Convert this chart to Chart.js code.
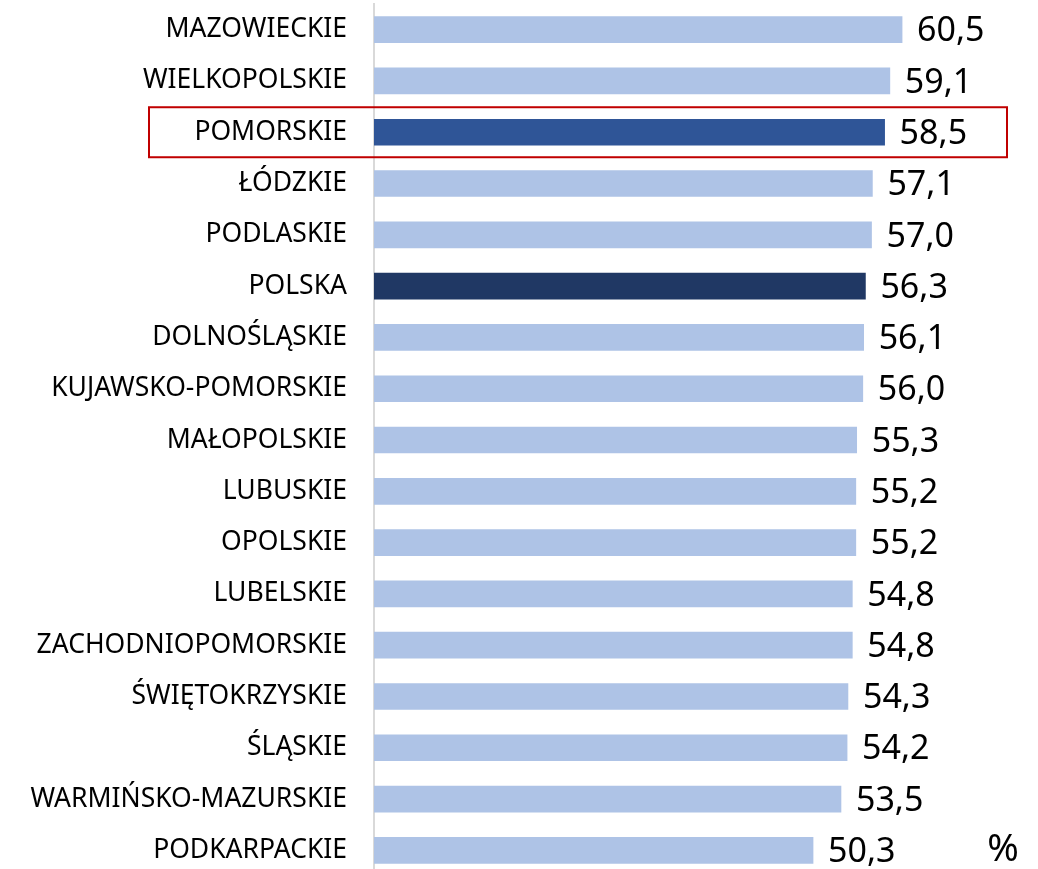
<!DOCTYPE html>
<html>
<head>
<meta charset="utf-8">
<script src="https://cdn.jsdelivr.net/npm/chart.js@4"></script>
<style>
html,body{margin:0;padding:0;background:#fff;overflow:hidden;}
canvas{display:block;}
</style>
</head>
<body>
<canvas id="c" width="1038" height="880"></canvas>
<script>
const categories = ["MAZOWIECKIE","WIELKOPOLSKIE","POMORSKIE","ŁÓDZKIE","PODLASKIE","POLSKA","DOLNOŚLĄSKIE","KUJAWSKO-POMORSKIE","MAŁOPOLSKIE","LUBUSKIE","OPOLSKIE","LUBELSKIE","ZACHODNIOPOMORSKIE","ŚWIĘTOKRZYSKIE","ŚLĄSKIE","WARMIŃSKO-MAZURSKIE","PODKARPACKIE"];
const values = [60.5,59.1,58.5,57.1,57.0,56.3,56.1,56.0,55.3,55.2,55.2,54.8,54.8,54.3,54.2,53.5,50.3];
const highlightRegion = "POMORSKIE";
const nationalLabel = "POLSKA";
const unitLabel = "%";

const LIGHT = "#aec3e6", HIGH = "#2f5597", NAT = "#203864";
const colors = categories.map(c => c === highlightRegion ? HIGH : (c === nationalLabel ? NAT : LIGHT));

const overlay = {
  id: "overlay",
  afterDatasetsDraw(chart) {
    const ctx = chart.ctx;
    const meta = chart.getDatasetMeta(0);
    ctx.save();
    ctx.font = "34px 'Noto Sans'";
    ctx.fillStyle = "#000";
    ctx.textAlign = "left";
    ctx.textBaseline = "middle";
    meta.data.forEach((bar, i) => {
      ctx.fillText(values[i].toFixed(1).replace(".", ","), bar.x + 15, bar.y + 2);
    });
    // highlight box
    const y = chart.scales.y;
    const hi = categories.indexOf(highlightRegion);
    const yc = y.getPixelForValue(hi);
    ctx.strokeStyle = "#c00000";
    ctx.lineWidth = 2;
    ctx.strokeRect(149, yc - 25, 858, 50);
    // unit
    const last = meta.data[meta.data.length - 1];
    ctx.font = "38px 'Noto Sans'";
    ctx.textAlign = "center";
    ctx.fillText(unitLabel, 1003, last.y);
    ctx.restore();
  }
};

new Chart(document.getElementById("c"), {
  type: "bar",
  data: {
    labels: categories,
    datasets: [{ data: values, backgroundColor: colors, barThickness: 26, borderWidth: 0 }]
  },
  options: {
    indexAxis: "y",
    responsive: false,
    animation: false,
    devicePixelRatio: 1,
    layout: { padding: { top: 4, bottom: 2, right: 53, left: 0 } },
    plugins: { legend: { display: false }, tooltip: { enabled: false } },
    scales: {
      x: { min: 0, max: 70, display: false, grid: { display: false } },
      y: {
        afterFit(scale) { scale.width = 374; },
        grid: { display: false, drawTicks: true, tickLength: 27 },
        border: { display: true, color: "#d9d9d9", width: 2 },
        ticks: { color: "#000", font: { family: "'Noto Sans'", size: 26.5, lineHeight: 0.3 }, padding: 0 }
      }
    }
  },
  plugins: [overlay]
});
</script>
</body>
</html>
